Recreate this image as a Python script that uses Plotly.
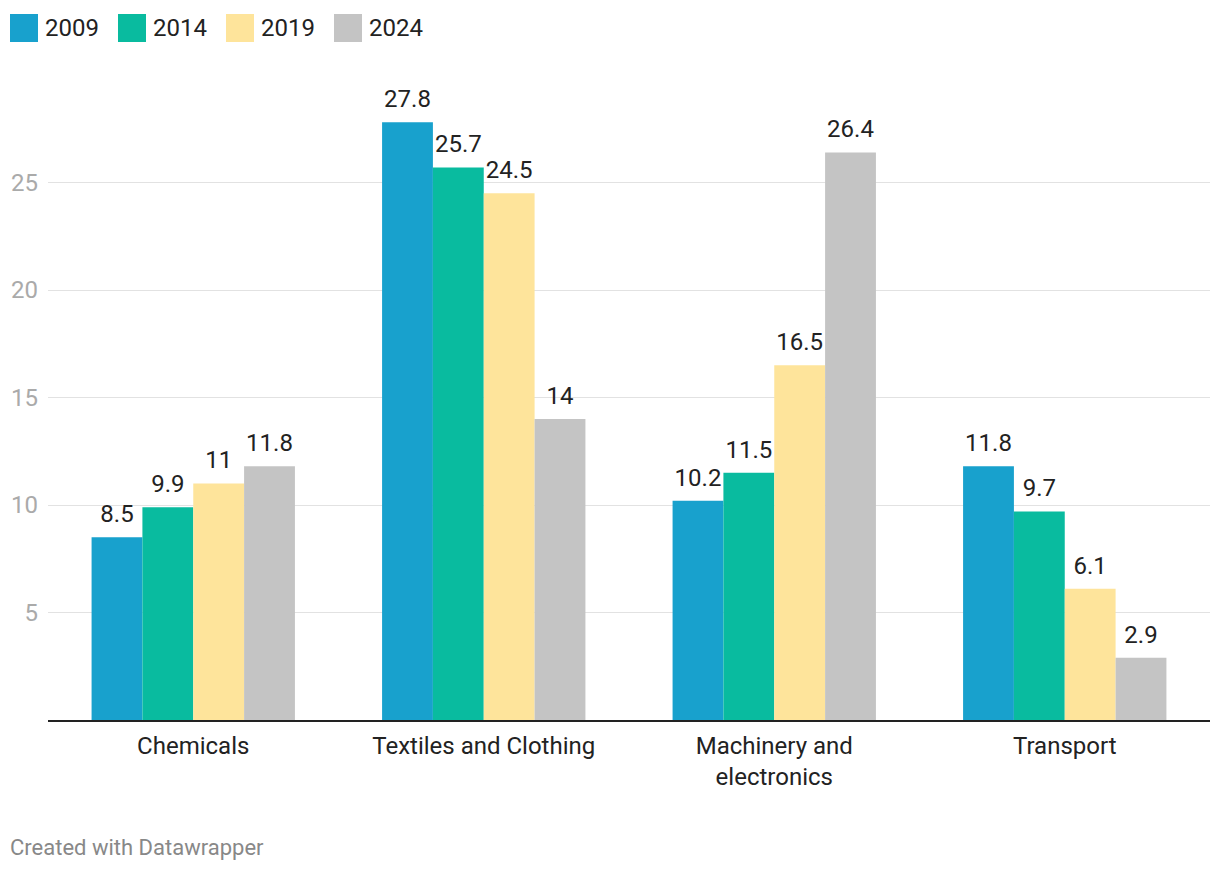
import plotly.graph_objects as go

categories = ["Chemicals", "Textiles and Clothing", "Machinery and electronics", "Transport"]
category_labels = ["Chemicals", "Textiles and Clothing", "Machinery and<br>electronics", "Transport"]
years = ["2009", "2014", "2019", "2024"]
values = {
    "2009": [8.5, 27.8, 10.2, 11.8],
    "2014": [9.9, 25.7, 11.5, 9.7],
    "2019": [11, 24.5, 16.5, 6.1],
    "2024": [11.8, 14, 26.4, 2.9],
}
colors = ["#18a1cd", "#09bb9f", "#fee49b", "#c4c4c4"]
y_ticks = [5, 10, 15, 20, 25]

FONT = "Roboto"
FS = 24
fig = go.Figure()
for i, (yr, col) in enumerate(zip(years, colors)):
    vals = values[yr]
    fig.add_trace(go.Bar(
        name=yr, x=categories, y=vals, marker=dict(color=col, line=dict(width=0)),
        offsetgroup=str(i), showlegend=False, hoverinfo="skip",
    ))
for i, yr in enumerate(years):
    vals = values[yr]
    fig.add_trace(go.Scatter(
        x=categories, y=vals, mode="markers+text", offsetgroup=str(i),
        marker=dict(size=13, color="rgba(0,0,0,0)"),
        text=[f"{v:g}" for v in vals], textposition="top center",
        textfont=dict(family=FONT, size=FS, color="#222222"),
        cliponaxis=False, showlegend=False, hoverinfo="skip",
    ))

# custom legend
lx = [10, 118, 226, 334]
for i, (yr, col) in enumerate(zip(years, colors)):
    fig.add_shape(type="rect", xref="paper", yref="paper",
                  x0=(lx[i] - 48) / 1162, x1=(lx[i] + 28 - 48) / 1162,
                  y0=(720 - 42) / 640, y1=(720 - 14) / 640,
                  fillcolor=col, line=dict(width=0))
    fig.add_annotation(xref="paper", yref="paper", x=(lx[i] + 33 - 48) / 1162,
                       y=(720 - 28) / 640, text=yr, showarrow=False,
                       xanchor="left", yanchor="middle",
                       font=dict(family=FONT, size=FS, color="#222222"))

fig.add_annotation(xref="paper", yref="paper", x=(8 - 48) / 1162, y=(720 - 847) / 640,
                   text="Created with Datawrapper", showarrow=False,
                   xanchor="left", yanchor="middle",
                   font=dict(family=FONT, size=22, color="#888888"))

fig.update_layout(
    width=1212, height=864,
    margin=dict(l=40, r=10, t=72, b=152),
    barmode="group", bargap=0.30, bargroupgap=0,
    scattermode="group", scattergap=0.30,
    plot_bgcolor="white", paper_bgcolor="white",
    font=dict(family=FONT, size=FS, color="#222222"),
    xaxis=dict(tickmode="array", tickvals=categories, ticktext=category_labels,
               showline=True, linecolor="#222222", linewidth=2, ticks="",
               ticklabelstandoff=3, automargin=False,
               tickfont=dict(family=FONT, size=FS, color="#222222"), showgrid=False),
    yaxis=dict(range=[0, 640 / 21.5], tickvals=y_ticks, showgrid=True,
               gridcolor="#e2e2e2", gridwidth=1, zeroline=False, ticks="",
               ticklabelstandoff=9, automargin=False,
               tickfont=dict(family=FONT, size=FS, color="#aaaaaa"), showline=False),
)

fig.write_html("out.html")
